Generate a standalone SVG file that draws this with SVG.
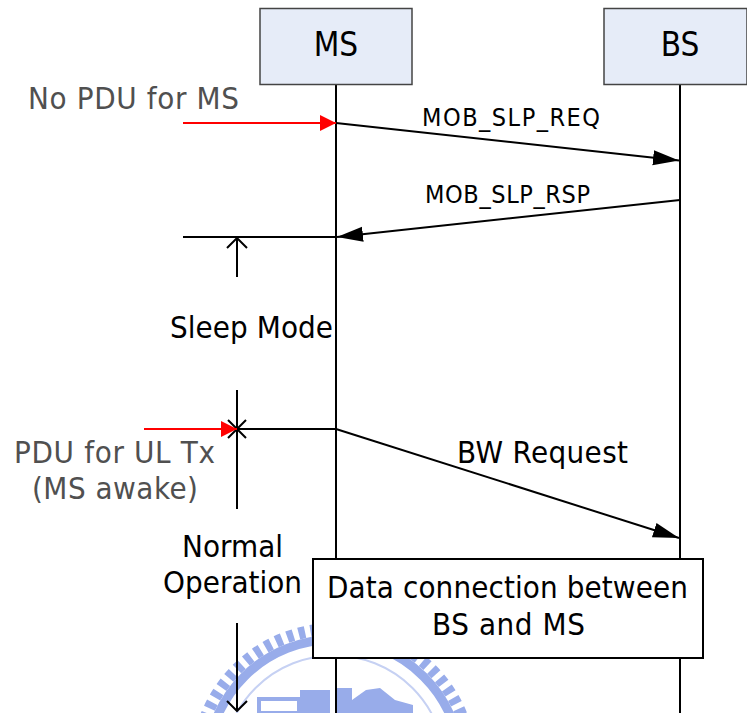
<svg xmlns="http://www.w3.org/2000/svg" width="747" height="713" viewBox="0 0 747 713">
  <defs>
    <style>
      text { font-family: "DejaVu Sans Condensed", "DejaVu Sans", Verdana, sans-serif; font-stretch: condensed; fill: #000; }
      .big { font-size: 33px; text-anchor: middle; }
      .lbl { font-size: 31px; }
      .msg { font-size: 25px; }
      .grey { fill: #505050; }
      .head { fill: #E6ECF8; stroke: #444; stroke-width: 1.5; }
      .life { stroke: #000; stroke-width: 2; fill: none; }
      .wire { stroke: #000; stroke-width: 2; fill: none; }
      .trig { stroke: #FF0000; stroke-width: 2; fill: none; }
      .emb { fill: none; stroke: #98ACEA; }
    </style>
    <marker id="solid" markerUnits="userSpaceOnUse" markerWidth="26" markerHeight="16" refX="26" refY="8" orient="auto">
      <path d="M0,0.5 L26,8 L0,15.5 z" fill="#000"/>
    </marker>
    <marker id="red" markerUnits="userSpaceOnUse" markerWidth="17" markerHeight="17" refX="16" refY="8.5" orient="auto">
      <path d="M0,0.5 L16,8.5 L0,16.5 z" fill="#FF0000"/>
    </marker>
    <marker id="open" markerUnits="userSpaceOnUse" markerWidth="12" markerHeight="22" refX="11" refY="11" orient="auto">
      <path d="M1,1 L11,11 L1,21" fill="none" stroke="#000" stroke-width="2"/>
    </marker>
  </defs>

  <rect width="747" height="713" fill="#fff"/>

  <!-- faint emblem behind the lower part -->
  <g id="emblem">
    <circle class="emb" cx="334" cy="766.5" r="137.5" stroke-width="12" stroke-dasharray="6.5 5.5"/>
    <circle class="emb" cx="334" cy="766.5" r="127" stroke-width="9"/>
    <circle cx="334" cy="766.5" r="111" fill="none" stroke="#C6D1F3" stroke-width="2"/>
    <g fill="#98ACEA">
      <rect x="300" y="690" width="30" height="23"/>
      <rect x="336" y="688" width="16" height="25"/>
      <path d="M352,713 L352,700 L366,690 L380,688 L395,700 L413,705 L413,713 z"/>
    </g>
    <rect x="259" y="699" width="40" height="14" fill="none" stroke="#98ACEA" stroke-width="4"/>
  </g>

  <!-- lifelines -->
  <g id="lifelines">
    <line class="life" x1="336" y1="84" x2="336" y2="713"/>
    <line class="life" x1="680" y1="84" x2="680" y2="713"/>
  </g>

  <g id="node-ms">
    <rect class="head" x="260" y="8.5" width="152" height="76"/>
    <text class="big" x="336" y="56">MS</text>
  </g>

  <g id="node-bs">
    <rect class="head" x="604" y="8.5" width="143" height="76"/>
    <text class="big" x="680" y="56">BS</text>
  </g>

  <!-- messages and markers -->
  <g id="connectors">
    <line class="trig" x1="183" y1="123" x2="336" y2="123" marker-end="url(#red)"/>
    <line class="wire" x1="336" y1="123" x2="679" y2="160.5" marker-end="url(#solid)"/>
    <line class="wire" x1="680" y1="200" x2="337" y2="237" marker-end="url(#solid)"/>
    <line class="wire" x1="183" y1="237" x2="336" y2="237"/>
    <line class="wire" x1="237" y1="277" x2="237" y2="238" marker-end="url(#open)"/>
    <line class="wire" x1="237" y1="390" x2="237" y2="509"/>
    <path class="wire" d="M228,420 L246,438 M246,420 L228,438"/>
    <line class="trig" x1="144" y1="429" x2="237" y2="429" marker-end="url(#red)"/>
    <line class="wire" x1="237" y1="429" x2="336" y2="429"/>
    <line class="wire" x1="336" y1="429" x2="679" y2="538" marker-end="url(#solid)"/>
    <line class="wire" x1="237" y1="623" x2="237" y2="711" marker-end="url(#open)"/>
  </g>

  <g id="labels">
    <text class="lbl grey" x="28" y="109" textLength="211">No PDU for MS</text>
    <text class="msg" x="422" y="126" textLength="178">MOB_SLP_REQ</text>
    <text class="msg" x="425" y="203" textLength="165">MOB_SLP_RSP</text>
    <text class="lbl" x="170" y="338" textLength="163">Sleep Mode</text>
    <text class="lbl" x="457" y="463" textLength="171">BW Request</text>
    <text class="lbl grey" x="14" y="463" textLength="201">PDU for UL Tx</text>
    <text class="lbl grey" x="32" y="499" textLength="166">(MS awake)</text>
    <text class="lbl" x="182" y="557" textLength="101">Normal</text>
    <text class="lbl" x="163" y="593" textLength="139">Operation</text>
  </g>

  <g id="node-data">
    <rect x="313" y="559" width="390" height="99" fill="#fff" stroke="#000" stroke-width="2"/>
    <text class="lbl" x="327" y="598" textLength="361">Data connection between</text>
    <text class="lbl" x="432" y="635" textLength="153">BS and MS</text>
  </g>
</svg>
